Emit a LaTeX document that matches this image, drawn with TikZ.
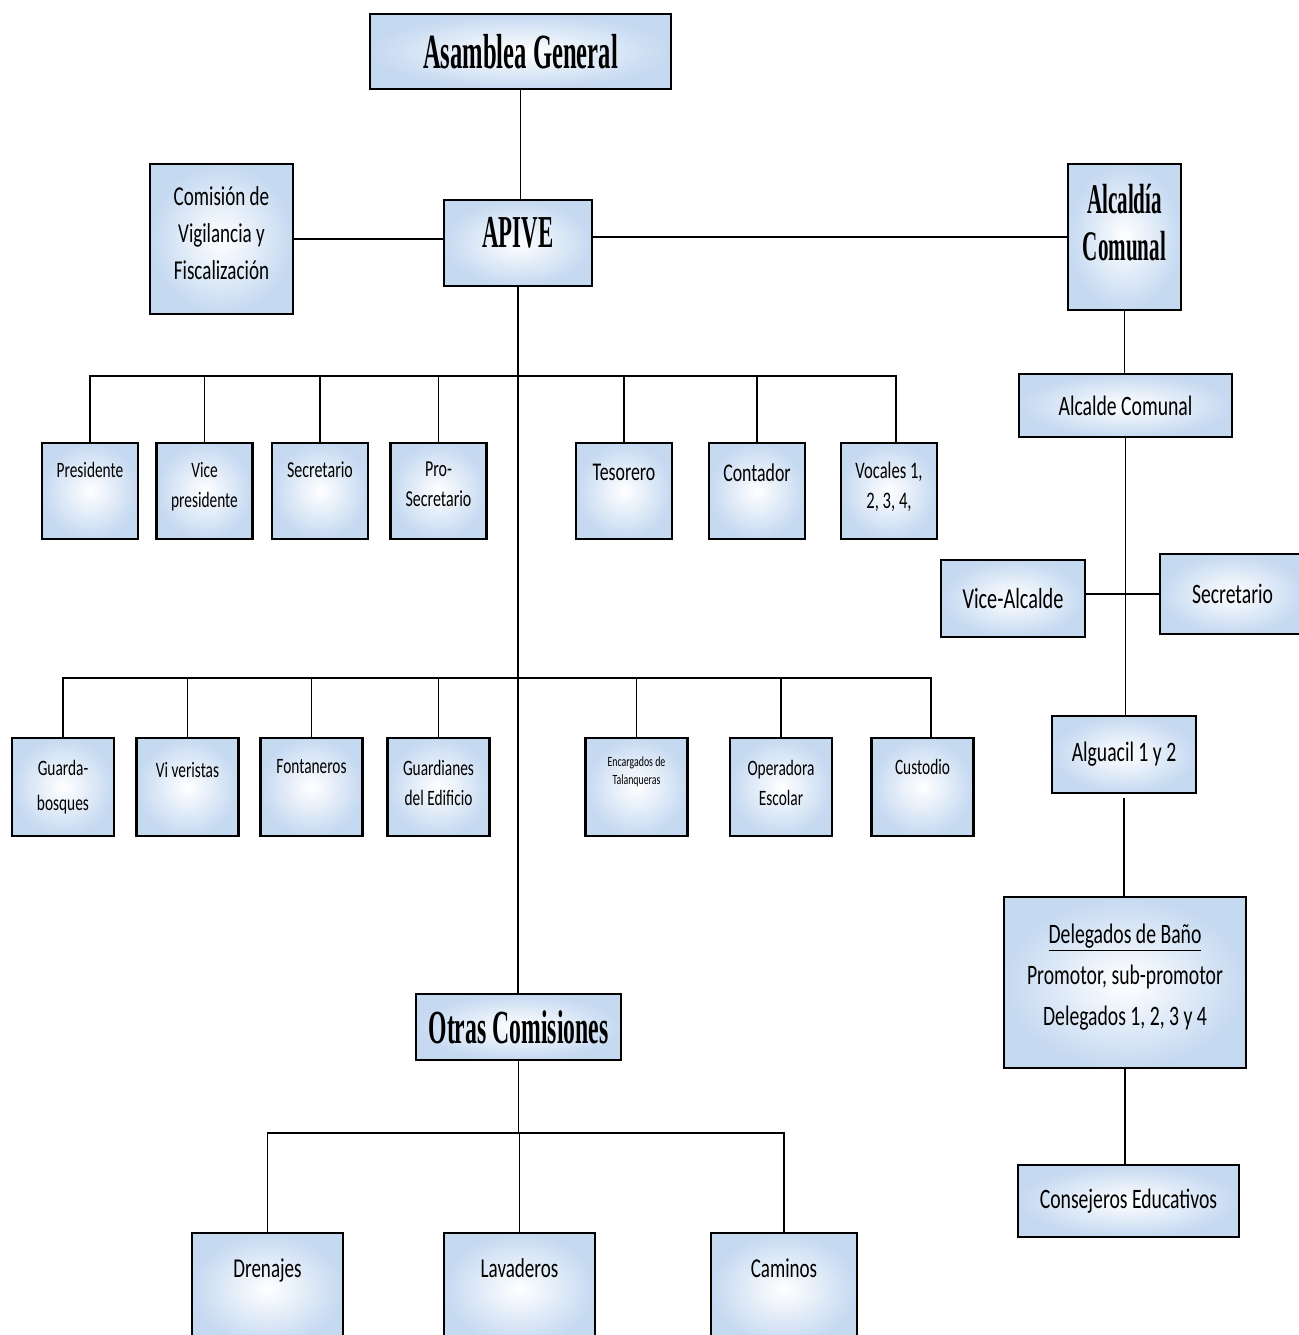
\documentclass[tikz,border=0pt]{standalone}
\usepackage{fontspec}
\setmainfont{Carlito}[FakeStretch=0.7]
\newfontfamily\headfont{Liberation Serif}[FakeStretch=0.5]
\usepackage{tikz}
\usetikzlibrary{positioning, shadows}
\definecolor{boxblue}{RGB}{197,217,241}

\begin{document}
\begin{tikzpicture}[x=0.02cm, y=-0.02cm,
    cell/.style={draw=black, line width=1.5pt, inner color=white, outer color=boxblue,
        drop shadow={shadow xshift=0.8pt, shadow yshift=-0.8pt, fill=black!60, opacity=0.7},
        align=center, inner sep=0pt},
    head/.style={font=\headfont\bfseries\fontsize{#1}{27}\selectfont}, head/.default=27,
    body/.style={font=\fontsize{#1}{21}\selectfont}, body/.default=16,
    toptext/.style={anchor=north, inner sep=0pt, align=center, yshift=#1},
    rowa/.style={cell, minimum width=1.92cm, minimum height=1.92cm},
    rowb/.style={cell, minimum width=2.04cm, minimum height=1.96cm},
    link/.style={line width=1.1pt}]
    \useasboundingbox (0,0) rectangle (1298,1335);

    % top of the chart
    \node[cell, head=28, minimum width=6.02cm, minimum height=1.5cm] (asamblea) at (520.5, 51.5) {Asamblea General};
    \node[cell, minimum width=2.96cm, minimum height=1.72cm, label={[toptext=-0.36cm, head=26]north:APIVE}] (apive) at (518, 243) {};
    \node[cell, body=15.5, minimum width=2.86cm, minimum height=3cm] (comision) at (221.5, 239) {Comisión de\\Vigilancia y\\Fiscalización\\[-14pt]};
    \node[cell, minimum width=2.26cm, minimum height=2.92cm, label={[toptext=-0.42cm, head=24]north:{Alcaldía\\Comunal}}] (alcaldia) at (1124.5, 237) {};

    % junta directiva
    \node[rowa, label={[toptext=-0.4cm, font=\fontsize{12.5}{17}\selectfont]north:Presidente}] (pres) at (90, 491) {};
    \node[rowa, label={[toptext=-0.4cm, font=\fontsize{12.5}{17}\selectfont]north:{Vice\\presidente}}] (vice) at (204.5, 491) {};
    \node[rowa, label={[toptext=-0.4cm, font=\fontsize{13}{17}\selectfont]north:Secretario}] (sec) at (320, 491) {};
    \node[rowa, label={[toptext=-0.4cm, font=\fontsize{13}{17}\selectfont]north:{Pro-\\Secretario}}] (pro) at (438.5, 491) {};
    \node[rowa, label={[toptext=-0.44cm, font=\fontsize{14.5}{17}\selectfont]north:Tesorero}] (tes) at (624, 491) {};
    \node[rowa, label={[toptext=-0.44cm, font=\fontsize{14.5}{17}\selectfont]north:Contador}] (cont) at (757, 491) {};
    \node[rowa, label={[toptext=-0.4cm, font=\fontsize{13.5}{17}\selectfont]north:{Vocales 1,\\2, 3, 4,}}] (voc) at (889, 491) {};

    % personal
    \node[rowb, label={[toptext=-0.47cm, font=\fontsize{12.5}{19.5}\selectfont]north:{Guarda-\\bosques}}] (guarda) at (63, 787) {};
    \node[rowb, label={[toptext=-0.5cm, font=\fontsize{12.5}{17}\selectfont]north:Vi veristas}] (viv) at (187.5, 787) {};
    \node[rowb, label={[toptext=-0.44cm, font=\fontsize{12.5}{17}\selectfont]north:Fontaneros}] (fonta) at (311.5, 787) {};
    \node[rowb, label={[toptext=-0.47cm, font=\fontsize{12.5}{17}\selectfont]north:{Guardianes\\del Edificio}}] (guard) at (438.5, 787) {};
    \node[rowb, label={[toptext=-0.4cm, font=\fontsize{8}{10}\selectfont]north:{Encargados de\\Talanqueras}}] (enc) at (636.5, 787) {};
    \node[rowb, label={[toptext=-0.47cm, font=\fontsize{12.5}{17}\selectfont]north:{Operadora\\Escolar}}] (oper) at (781, 787) {};
    \node[rowb, label={[toptext=-0.44cm, font=\fontsize{12.5}{17}\selectfont]north:Custodio}] (cust) at (922.5, 787) {};

    % comisiones
    \node[cell, head=27, minimum width=4.1cm, minimum height=1.32cm] (otras) at (518.5, 1027) {Otras Comisiones};
    \node[cell, minimum width=3.02cm, minimum height=2.24cm, label={[toptext=-0.54cm, font=\fontsize{15.5}{19}\selectfont]north:Drenajes}] (dren) at (267.5, 1289) {};
    \node[cell, minimum width=3.02cm, minimum height=2.24cm, label={[toptext=-0.54cm, font=\fontsize{15.5}{19}\selectfont]north:Lavaderos}] (lav) at (519.5, 1289) {};
    \node[cell, minimum width=2.92cm, minimum height=2.24cm, label={[toptext=-0.54cm, font=\fontsize{15.5}{19}\selectfont]north:Caminos}] (cam) at (784, 1289) {};

    % alcaldia
    \node[cell, body, minimum width=4.26cm, minimum height=1.26cm] (alcalde) at (1125.5, 405.5) {Alcalde Comunal};
    \node[cell, body=16.5, minimum width=2.88cm, minimum height=1.54cm] (vicealc) at (1013, 598.5) {Vice-Alcalde};
    \node[cell, body, minimum width=2.9cm, minimum height=1.6cm] (secalc) at (1232.5, 594) {Secretario};
    \node[cell, body, minimum width=2.88cm, minimum height=1.54cm] (alguacil) at (1124, 754.5) {Alguacil 1 y 2};
    \node[cell, font=\fontsize{16}{23.3}\selectfont, minimum width=4.84cm, minimum height=3.42cm] (delegados) at (1125, 982.5) {\underline{Delegados de Baño}\\Promotor, sub-promotor\\Delegados 1, 2, 3 y 4\\[-14pt]};
    \node[cell, body, minimum width=4.42cm, minimum height=1.44cm] (consejeros) at (1128.5, 1201) {Consejeros Educativos};

    \coordinate (busa) at (518, 376);
    \coordinate (busb) at (518, 678);
    \coordinate (busc) at (518, 1133);

    \draw[link]
    (asamblea.south) -- (asamblea.south |- apive.north)
    (comision.east) -- (comision.east -| apive.west)
    (alcaldia.west -| apive.east) -- (alcaldia.west)
    (apive.south) -- (apive.south |- otras.north)
    (pres.north) |- (busa) -| ([xshift=0.14cm]voc.north)
    (guarda.north) |- (busb) -| ([xshift=0.17cm]cust.north)
    (otras.south) -- (otras.south |- busc)
    (dren.north) |- (busc) -| (cam.north)
    (lav.north) -- (lav.north |- busc);
    \foreach \n in {vice, sec, pro, tes, cont} {
        \draw[link] (\n.north) -- (\n.north |- busa);
    }
    \foreach \n in {viv, fonta, guard, enc, oper} {
        \draw[link] (\n.north) -- (\n.north |- busb);
    }

    \draw[link]
    (alcaldia.south) -- (alcaldia.south |- alcalde.north)
    (alcalde.south) -- (alcalde.south |- alguacil.north)
    (secalc.west -| vicealc.east) -- (secalc.west)
    ([yshift=-2pt]alguacil.south) -- (alguacil.south |- delegados.north)
    (delegados.south) -- (delegados.south |- consejeros.north);
\end{tikzpicture}
\end{document}
